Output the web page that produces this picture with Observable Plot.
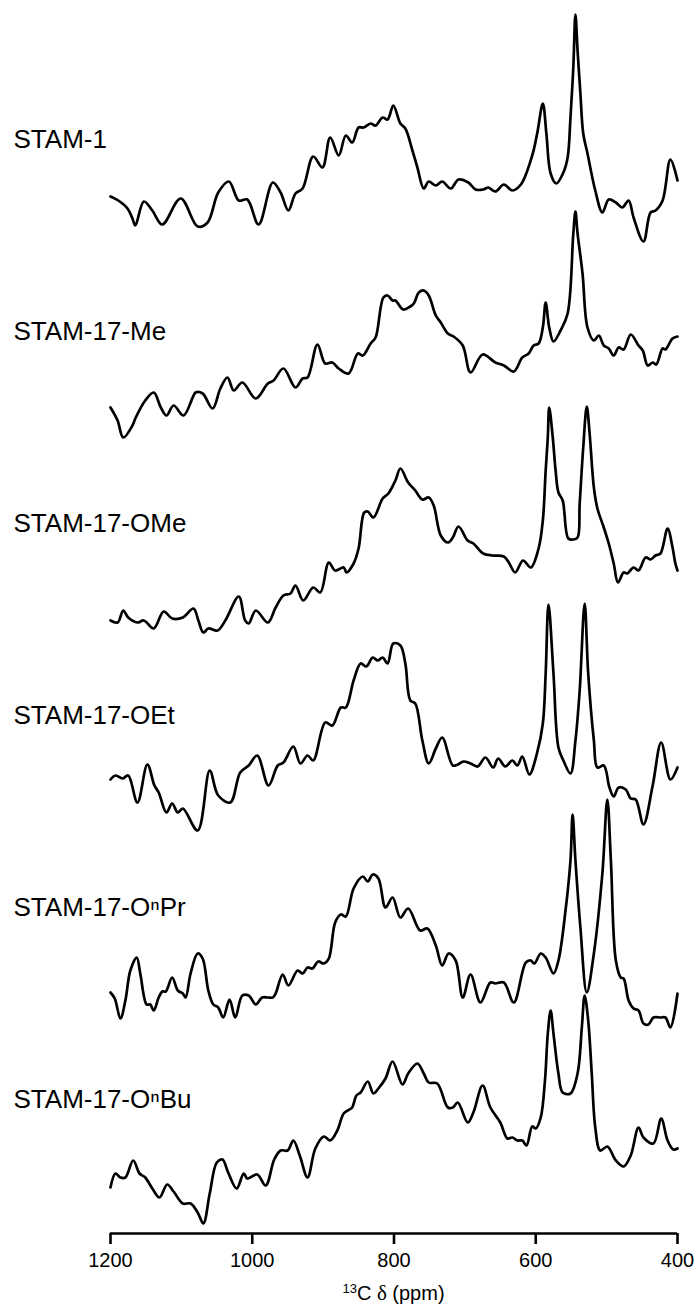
<!DOCTYPE html>
<html><head><meta charset="utf-8">
<script src="https://cdn.jsdelivr.net/npm/d3@7"></script>
<script src="https://cdn.jsdelivr.net/npm/@observablehq/plot@0.6"></script>
<style>
body{margin:0;background:#fff;}
#chart svg{display:block;}
g[aria-label*="x-axis"] path, g[aria-label*="x-axis"] line {stroke-width:2.6px;}
</style></head><body><div id="chart"></div>
<script>
const xTicks = [1200, 1000, 800, 600, 400];
const names = ["STAM-1", "STAM-17-Me", "STAM-17-OMe", "STAM-17-OEt", "STAM-17-O\u207FPr", "STAM-17-O\u207FBu"];

const stam1 = [[1200,49],[1189,45],[1176,37],[1169,27],[1165,20],[1153,44],[1141,35],[1127,21],[1101,47],[1077,19],[1063,23],[1048,53],[1033,64],[1019,45],[1007,46],[991,21],[971,63],[960,53],[949,35],[939,52],[929,57],[914,89],[901,78],[890,108],[878,90],[868,110],[859,103],[850,118],[843,118],[833,122],[826,120],[816,128],[809,126],[801,140],[791,122],[784,117],[774,95],[767,78],[758,57],[751,64],[741,60],[732,64],[720,57],[709,66],[695,63],[685,56],[674,56],[667,58],[657,54],[645,61],[633,55],[621,61],[605,90],[598,112],[590,142],[585,112],[579,72],[571,62],[561,73],[555,88],[551,128],[547,178],[544,231],[541,195],[537,152],[533,112],[527,92],[516,55],[506,33],[497,46],[487,43],[478,38],[469,45],[462,28],[448,4],[438,33],[431,35],[421,45],[410,86],[400,65]];

const stam17Me = [[1200,30],[1190,17],[1182,0],[1169,12],[1165,19],[1151,37],[1139,45],[1129,30],[1121,22],[1111,32],[1097,22],[1084,40],[1080,45],[1070,44],[1056,29],[1045,49],[1035,60],[1026,47],[1014,55],[995,39],[978,54],[970,57],[956,69],[939,50],[929,59],[922,60],[908,93],[897,74],[887,75],[878,69],[864,64],[851,84],[844,82],[833,94],[826,100],[815,140],[809,142],[802,137],[798,137],[787,128],[777,131],[772,134],[765,145],[758,147],[751,142],[741,122],[734,115],[724,104],[716,101],[703,92],[692,65],[675,83],[657,75],[645,72],[631,66],[619,80],[610,84],[603,92],[596,94],[590,110],[586,135],[581,110],[575,96],[565,107],[555,124],[547,204],[544,226],[541,204],[534,164],[527,110],[518,97],[511,102],[504,92],[497,89],[490,82],[483,90],[476,88],[466,103],[455,92],[449,87],[442,72],[435,75],[430,73],[421,89],[417,88],[407,99],[400,101]];

const stam17OMe = [[1200,9],[1190,7],[1182,19],[1175,12],[1162,7],[1153,9],[1139,1],[1125,18],[1113,11],[1098,12],[1083,21],[1076,9],[1069,-3],[1062,1],[1049,-1],[1038,9],[1019,33],[1010,9],[1005,6],[995,19],[978,7],[967,22],[956,34],[946,36],[939,44],[928,29],[914,42],[904,37],[892,67],[883,59],[871,62],[867,57],[857,66],[850,81],[842,117],[837,118],[829,112],[816,131],[808,136],[798,149],[791,161],[780,147],[770,139],[760,130],[751,132],[744,124],[734,94],[724,87],[717,92],[709,103],[696,89],[688,86],[674,76],[661,74],[645,73],[638,67],[629,57],[618,69],[607,62],[596,81],[590,109],[586,159],[583,192],[581,222],[576,192],[572,159],[568,137],[562,129],[554,91],[547,90],[541,92],[538,126],[533,182],[528,223],[524,196],[518,142],[513,121],[504,102],[497,86],[490,66],[484,47],[476,57],[471,56],[462,62],[455,59],[445,72],[438,70],[431,74],[424,76],[414,101],[407,82],[403,66],[400,59]];

const stam17OEt = [[1200,42],[1193,46],[1183,43],[1175,46],[1162,19],[1148,57],[1138,36],[1132,29],[1121,9],[1113,18],[1105,9],[1098,13],[1077,-9],[1060,51],[1048,26],[1031,19],[1017,49],[1005,56],[993,66],[977,36],[964,56],[956,59],[942,75],[932,58],[922,66],[914,61],[897,99],[887,96],[875,114],[868,114],[857,141],[847,158],[839,155],[830,164],[823,161],[816,164],[809,158],[801,178],[791,176],[784,158],[777,121],[770,118],[760,81],[751,58],[741,73],[732,84],[717,56],[710,57],[702,60],[692,58],[682,55],[671,64],[660,54],[653,63],[643,55],[633,61],[626,56],[619,65],[609,47],[598,69],[590,98],[586,148],[582,217],[575,148],[568,74],[561,61],[551,48],[544,81],[538,131],[531,218],[526,148],[518,81],[513,54],[504,56],[496,34],[490,25],[483,34],[473,32],[466,23],[459,22],[448,-3],[435,36],[423,79],[410,42],[400,54]];

const stam17OnPr = [[1200,21],[1194,15],[1186,-5],[1179,13],[1172,43],[1163,56],[1158,40],[1149,9],[1144,9],[1139,3],[1132,16],[1127,22],[1122,22],[1113,36],[1105,23],[1098,20],[1094,16],[1087,40],[1077,60],[1070,55],[1062,23],[1055,9],[1048,6],[1041,-4],[1032,14],[1024,-4],[1014,18],[1005,18],[995,9],[986,16],[978,16],[971,16],[967,20],[957,39],[949,28],[936,43],[929,40],[922,46],[915,45],[907,52],[899,50],[892,55],[883,91],[875,99],[868,97],[857,125],[844,137],[837,132],[830,139],[822,135],[812,106],[802,116],[791,96],[780,105],[763,83],[753,85],[741,68],[732,48],[723,60],[713,53],[703,16],[692,39],[678,11],[664,31],[657,30],[645,31],[631,11],[614,51],[607,53],[602,50],[593,60],[586,56],[575,40],[568,53],[558,103],[551,153],[548,199],[544,153],[537,86],[528,21],[518,60],[506,140],[499,214],[494,153],[487,53],[480,36],[476,35],[469,13],[462,5],[455,3],[448,-10],[441,-11],[434,-4],[424,-4],[417,-4],[410,-14],[400,20]];

const stam17OnBu = [[1200,18],[1193,32],[1186,28],[1179,28],[1168,45],[1159,32],[1151,28],[1141,17],[1131,8],[1120,21],[1111,14],[1098,2],[1087,2],[1077,-7],[1069,-18],[1060,12],[1050,43],[1042,46],[1034,33],[1022,17],[1012,32],[1007,27],[993,31],[981,20],[969,46],[960,55],[950,55],[942,65],[933,50],[922,28],[911,57],[899,69],[890,65],[880,75],[871,92],[863,96],[859,98],[853,110],[847,113],[837,124],[829,112],[822,117],[812,127],[802,144],[788,121],[780,132],[767,142],[758,132],[751,123],[739,122],[724,98],[717,98],[710,103],[696,83],[688,93],[675,120],[664,98],[650,83],[640,67],[633,68],[626,65],[619,65],[613,60],[605,79],[600,77],[593,88],[587,125],[583,172],[579,195],[575,172],[568,132],[562,113],[551,112],[541,132],[535,178],[531,210],[526,185],[521,132],[516,78],[509,55],[499,59],[487,45],[476,39],[466,50],[455,78],[448,68],[434,62],[423,87],[414,65],[406,56],[400,57]];

const spectra = [stam1, stam17Me, stam17OMe, stam17OEt, stam17OnPr, stam17OnBu];
const step = 192, base = 28, labelRise = 98;

const rows = spectra.flatMap((s, i) => s.map(([ppm, v]) => ({name: names[i], ppm, y: base + (5 - i) * step + v})));
const labels = names.map((n, i) => ({name: n, y: base + (5 - i) * step + labelRise}));

const chart = Plot.plot({
  width: 696, height: 1305,
  marginLeft: 110, marginRight: 19, marginTop: 0, marginBottom: 72,
  style: {fontFamily: "'Liberation Sans', Arial, sans-serif", fontSize: "20px", color: "#000", background: "#fff", overflow: "visible"},
  x: {domain: [1200, 400], ticks: xTicks, tickSize: 11, tickPadding: 8, tickFormat: d3.format("d"), label: null},
  y: {domain: [0, 1233], axis: null},
  marks: [
    Plot.ruleY([0], {stroke: "#000", strokeWidth: 2.6}),
    Plot.line(rows, {x: "ppm", y: "y", z: "name", curve: "catmull-rom", stroke: "#000", strokeWidth: 2.7}),
    Plot.text(labels, {frameAnchor: "left", y: "y", text: "name", dx: -97, textAnchor: "start", lineAnchor: "bottom", fontSize: 26, fill: "#000"})
  ]
});
document.getElementById("chart").appendChild(chart);

const svg = d3.select(chart);
const xs = chart.scale("x");
const cx = (xs.apply(1200) + xs.apply(400)) / 2;
const t = svg.append("text").attr("x", cx).attr("y", 1300).attr("text-anchor", "middle")
  .attr("font-size", 20).attr("font-family", "'Liberation Sans', Arial, sans-serif").attr("fill", "#000");
t.append("tspan").attr("font-size", 13).attr("dy", -7).text("13");
t.append("tspan").attr("dy", 7).text("C ");
t.append("tspan").attr("font-family", "'Liberation Serif', serif").attr("font-size", 21).text("\u03B4");
t.append("tspan").text(" (ppm)");
</script></body></html>
